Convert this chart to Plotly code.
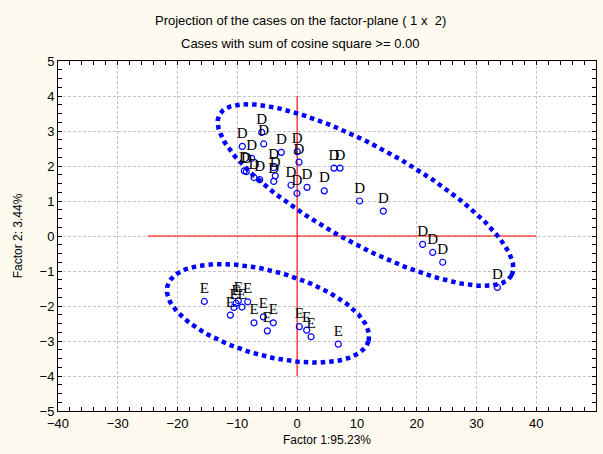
import numpy as np
import plotly.graph_objects as go

# Factor scores of the cases on factor 1 (x) and factor 2 (y)
d_x = [-9.17, -5.92, -5.59, -2.64, 0.03, 0.32, -7.59, -8.83, -8.50, -7.21,
       -6.26, -3.91, -3.65, -3.91, -1.02, -0.02, 1.66, 4.55, 6.17, 7.18,
       10.45, 14.42, 21.0, 22.68, 24.36, 33.5]
d_y = [2.56, 2.96, 2.63, 2.39, 2.41, 2.11, 2.22, 1.86, 1.84, 1.67,
       1.61, 1.95, 1.72, 1.56, 1.45, 1.22, 1.39, 1.29, 1.94, 1.94,
       1.00, 0.71, -0.24, -0.47, -0.75, -1.47]
e_x = [-15.52, -11.17, -10.56, -10.22, -9.83, -9.22, -8.27, -7.21, -5.65,
       -4.98, -3.98, 0.37, 1.60, 2.33, 6.89]
e_y = [-1.87, -2.26, -2.04, -1.92, -1.85, -2.03, -1.88, -2.48, -2.31,
       -2.71, -2.48, -2.59, -2.69, -2.88, -3.09]
d_label = "D"
e_label = "E"

# Group ellipses: centre and two conjugate semi-axis vectors (data units)
ellipse_d = {"center": (11.44, 1.17), "a": (24.44, -2.296), "b": (-3.85, -1.21)}
ellipse_e = {"center": (-4.86, -2.21), "a": (16.82, -0.793), "b": (-1.876, -1.164)}

# Reference cross through the origin
h_line_x = [-25, 40]
h_line_y = [0, 0]
v_line_x = [0, 0]
v_line_y = [-4, 4]

x_range = [-40, 50]
y_range = [-5, 5]

title_1 = "Projection of the cases on the factor-plane ( 1 x  2)"
title_2 = "Cases with sum of cosine square >= 0.00"
x_title = "Factor 1:95.23%"
y_title = "Factor 2: 3.44%"

BLUE = "#0000FF"
SANS = "Liberation Sans, Arial, sans-serif"
tick_font = dict(family=SANS, size=13, color="black")


def ellipse_path(spec, n=400):
    t = np.linspace(0, 2 * np.pi, n)
    cx, cy = spec["center"]
    ax, ay = spec["a"]
    bx, by = spec["b"]
    return cx + ax * np.cos(t) + bx * np.sin(t), cy + ay * np.cos(t) + by * np.sin(t)


fig = go.Figure()

for xs, ys in (
    (h_line_x, h_line_y),
    (v_line_x, v_line_y),
):
    fig.add_trace(go.Scatter(x=xs, y=ys, mode="lines",
                             line=dict(color="red", width=1.1),
                             hoverinfo="skip", showlegend=False))

for spec in (ellipse_d, ellipse_e):
    ex, ey = ellipse_path(spec)
    fig.add_trace(go.Scatter(x=ex, y=ey, mode="lines",
                             line=dict(color=BLUE, width=4.5, dash="4.5px,4px"),
                             hoverinfo="skip", showlegend=False))

for xs, ys, lab in ((d_x, d_y, d_label), (e_x, e_y, e_label)):
    fig.add_trace(go.Scatter(
        x=xs, y=ys, mode="markers+text",
        text=[lab] * len(xs), textposition="top center",
        textfont=dict(family="Liberation Serif, Times New Roman, serif", size=15, color="black"),
        marker=dict(symbol="circle-open", size=6, color=BLUE, line=dict(width=1.2, color=BLUE)),
        showlegend=False,
    ))

axis_common = dict(
    showline=True, linecolor="black", linewidth=1, mirror="ticks",
    ticks="inside", ticklen=4, tickcolor="black", tickfont=tick_font,
    showgrid=True, gridcolor="#c4c4c4", griddash="3px,2px", gridwidth=1,
    zeroline=False,
)

fig.update_xaxes(range=x_range, dtick=10, tick0=0,
                 minor=dict(dtick=2, ticks="inside", ticklen=4, tickcolor="black", showgrid=False),
                 title=dict(text=x_title, font=dict(family=SANS, size=12, color="black"),
                            standoff=6),
                 **axis_common)
fig.update_yaxes(range=y_range, dtick=1, tick0=0,
                 minor=dict(dtick=0.25, ticks="inside", ticklen=4, tickcolor="black", showgrid=False),
                 title=dict(text=y_title, font=dict(family=SANS, size=12, color="black"),
                            standoff=14),
                 **axis_common)

title_font = dict(family=SANS, size=13, color="black")
fig.add_annotation(text=title_1, xref="paper", yref="paper", x=0.45, y=1.117,
                   xanchor="center", yanchor="middle", showarrow=False, font=title_font)
fig.add_annotation(text=title_2, xref="paper", yref="paper", x=0.45, y=1.051,
                   xanchor="center", yanchor="middle", showarrow=False, font=title_font)

fig.update_layout(
    width=603, height=454,
    margin=dict(l=58, r=7, t=61, b=43),
    paper_bgcolor="#FFFAF0",
    plot_bgcolor="white",
    showlegend=False,
)

fig.write_html("out.html")
